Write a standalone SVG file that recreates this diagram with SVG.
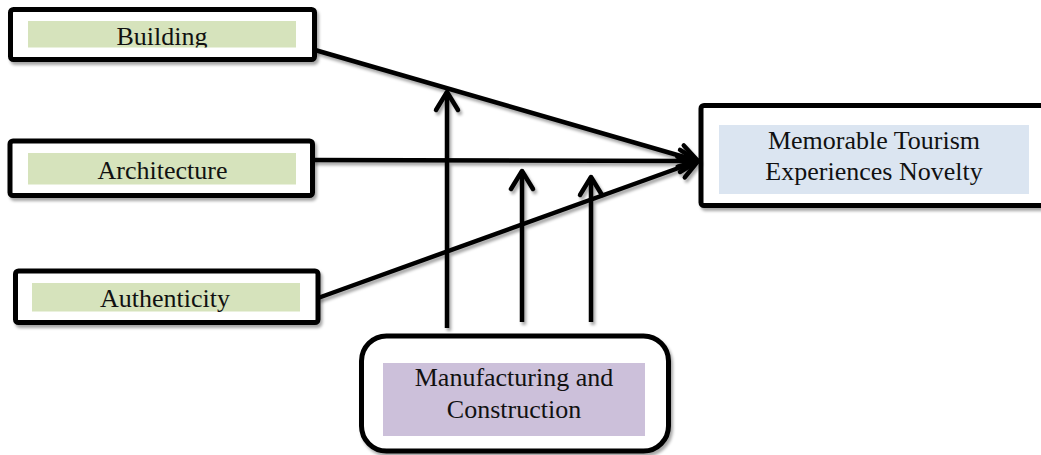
<svg xmlns="http://www.w3.org/2000/svg" width="1041" height="455" viewBox="0 0 1041 455">
<style>
.box{fill:#fff;stroke:#000;stroke-width:5}
.lbl{font-family:"Liberation Serif","Times New Roman",serif;font-size:26px;fill:#111;text-anchor:middle}
.con{stroke:#000;stroke-width:4.5;fill:none;marker-end:url(#arr)}
.green{fill:#d6e3bc}
</style>
<defs>
<filter id="sh" x="-10%" y="-10%" width="120%" height="130%">
<feDropShadow dx="2" dy="3" stdDeviation="1.5" flood-color="#000" flood-opacity="0.35"/>
</filter>
<marker id="arr" markerUnits="userSpaceOnUse" markerWidth="30" markerHeight="30" viewBox="-24 -15 30 30" refX="0" refY="0" orient="auto">
<path d="M-18,-11 L0,0 L-18,11" fill="none" stroke="#000" stroke-width="4.5" stroke-linejoin="round" stroke-linecap="round"/>
</marker>
<clipPath id="clipB"><rect x="28" y="21" width="268" height="26.5"/></clipPath>
</defs>
<g id="building">
<rect class="box" x="10.5" y="9.5" width="304" height="50" rx="3" filter="url(#sh)"/>
<rect class="green" x="28" y="21" width="268" height="26.5"/>
<text class="lbl" x="162" y="45" clip-path="url(#clipB)">Building</text>
</g>
<g id="architecture">
<rect class="box" x="10" y="141" width="302.5" height="54.5" rx="3" filter="url(#sh)"/>
<rect class="green" x="28" y="153" width="268" height="31.5"/>
<text class="lbl" x="162.5" y="179">Architecture</text>
</g>
<g id="authenticity">
<rect class="box" x="15.5" y="271" width="302.5" height="51.5" rx="3" filter="url(#sh)"/>
<rect class="green" x="32" y="283" width="268" height="28.5"/>
<text class="lbl" x="165" y="306.5">Authenticity</text>
</g>
<g id="mte">
<rect class="box" x="701" y="105.5" width="345" height="100" rx="3" filter="url(#sh)"/>
<rect fill="#dbe5f1" x="719" y="125" width="310" height="69"/>
<text class="lbl" x="874" y="149">Memorable Tourism</text>
<text class="lbl" x="874" y="180">Experiences Novelty</text>
</g>
<g id="manufacturing">
<rect class="box" x="361.5" y="336" width="307" height="115" rx="25" filter="url(#sh)"/>
<rect fill="#ccc0da" x="383" y="363" width="262" height="73"/>
<text class="lbl" x="514" y="386">Manufacturing and</text>
<text class="lbl" x="514" y="418">Construction</text>
</g>
<g id="connectors" filter="url(#sh)">
<line class="con" x1="315" y1="50" x2="698" y2="161"/>
<line class="con" x1="313" y1="160" x2="698" y2="161"/>
<line class="con" x1="318" y1="298" x2="698" y2="161"/>
<line class="con" x1="447" y1="328" x2="447" y2="92"/>
<line class="con" x1="522" y1="322" x2="522" y2="171"/>
<line class="con" x1="591" y1="322" x2="591" y2="177"/>
</g>
</svg>
